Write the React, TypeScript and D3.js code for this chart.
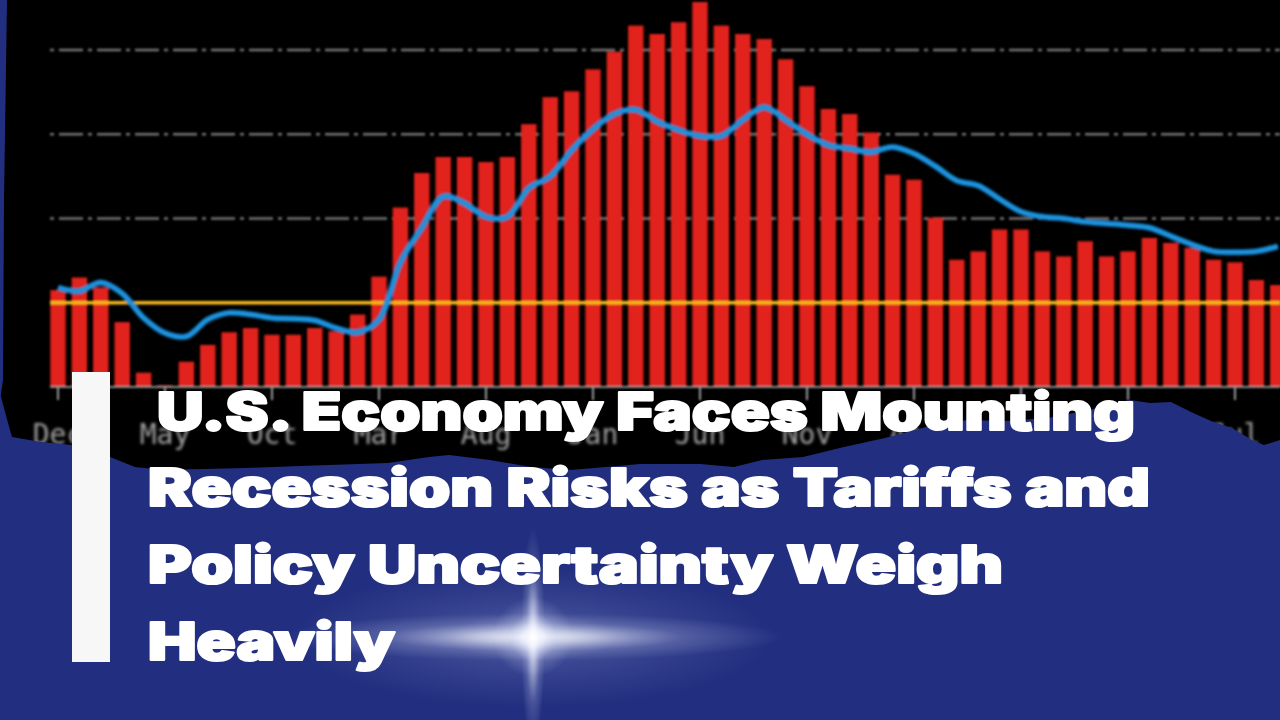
import React from 'react';
import * as d3 from 'd3';

const W = 1280;
const H = 720;

// monthly bar values (index 0 = Dec)
const barValues = [1.15, 1.30, 1.18, 0.77, 0.17, 0.02, 0.30, 0.50, 0.65, 0.70, 0.62, 0.62, 0.70, 0.66, 0.86, 1.31, 2.13, 2.54, 2.73, 2.73, 2.67, 2.73, 3.12, 3.44, 3.51, 3.77, 3.98, 4.29, 4.19, 4.33, 4.57, 4.29, 4.19, 4.13, 3.89, 3.57, 3.30, 3.24, 3.02, 2.52, 2.46, 2.01, 1.51, 1.61, 1.87, 1.87, 1.61, 1.55, 1.73, 1.55, 1.61, 1.77, 1.71, 1.65, 1.51, 1.48, 1.27, 1.21];
// smoothed line values
const lineValues = [1.18, 1.14, 1.24, 1.11, 0.82, 0.64, 0.60, 0.80, 0.88, 0.86, 0.82, 0.81, 0.79, 0.70, 0.65, 0.80, 1.48, 1.89, 2.26, 2.18, 2.02, 2.02, 2.36, 2.50, 2.81, 3.06, 3.24, 3.29, 3.15, 3.05, 2.98, 2.98, 3.17, 3.32, 3.17, 3.00, 2.87, 2.83, 2.79, 2.85, 2.77, 2.62, 2.45, 2.39, 2.23, 2.08, 2.02, 2.00, 1.96, 1.94, 1.92, 1.89, 1.79, 1.69, 1.61, 1.60, 1.61, 1.67];
const monthNames = ['Dec', 'Jan', 'Feb', 'Mar', 'Apr', 'May', 'Jun', 'Jul', 'Aug', 'Sep', 'Oct', 'Nov'];
const yearLabels = ['2020', '2021', '2021', '2022', '2022', '2023', '2023', '2023', '2024', '2024', '2025', '2025'];
const gridValues = [2, 3, 4];
const referenceValue = 1;
const tickEvery = 5;

const titleLines = [
  'U.S. Economy Faces Mounting',
  'Recession Risks as Tariffs and',
  'Policy Uncertainty Weigh',
  'Heavily',
];
const titleX = [157, 148, 148, 148];
const titleW = [978, 1002, 855, 247];
const titleY = [430, 506, 583, 660];

// decorative torn-paper edge of the blue overlay
const tornEdge: [number, number][] = [
  [0, 393], [8, 423], [12, 437], [41, 442], [71, 445], [110, 457], [135, 467], [163, 470], [245, 468], [300, 466],
  [388, 463], [429, 457], [449, 455], [490, 460], [531, 467], [571, 470], [640, 464], [700, 464], [734, 467],
  [762, 460], [803, 457], [844, 447], [885, 438], [926, 427], [967, 420], [1007, 421], [1048, 418], [1089, 410],
  [1130, 400], [1150, 403], [1171, 402], [1191, 412], [1211, 421], [1232, 428], [1252, 440], [1264, 445], [1280, 440],
];

const BLUE = '#222f80';

export default function App() {
  const idx = barValues.map((_, i) => i);
  const n = barValues.length;
  const x = d3.scaleBand<number>()
    .domain(idx)
    .range([47.3, 47.3 + 21.4 * n])
    .paddingInner(0.28)
    .paddingOuter(0.14);
  const y = d3.scaleLinear().domain([0, 4]).range([387, 50]);
  const cx = (i: number) => (x(i) as number) + x.bandwidth() / 2;

  const line = d3.line<number>()
    .x((_, i) => cx(i))
    .y((d) => y(d))
    .curve(d3.curveCatmullRom.alpha(0.5));

  const ticks = idx.filter((i) => i % tickEvery === 0);
  const edgePath = 'M' + tornEdge.map((p) => p.join(',')).join('L') + `L${W},${H}L0,${H}Z`;

  return (
    <svg width={W} height={H} style={{ position: 'absolute', left: 0, top: 0 }}>
      <defs>
        <filter id="blurChart" x="-5%" y="-5%" width="110%" height="110%">
          <feGaussianBlur stdDeviation="0.9" />
        </filter>
        <filter id="blurLabel" x="-10%" y="-10%" width="120%" height="120%">
          <feGaussianBlur stdDeviation="1.5" />
        </filter>
        <filter id="glow" x="-5%" y="-200%" width="110%" height="500%">
          <feGaussianBlur stdDeviation="2" />
        </filter>
        <radialGradient id="spark">
          <stop offset="0" stopColor="#ffffff" stopOpacity="1" />
          <stop offset="0.25" stopColor="#f4f6ff" stopOpacity="0.7" />
          <stop offset="0.6" stopColor="#c8cff0" stopOpacity="0.25" />
          <stop offset="1" stopColor="#c8cff0" stopOpacity="0" />
        </radialGradient>
        <radialGradient id="halo">
          <stop offset="0" stopColor="#ffffff" stopOpacity="0.75" />
          <stop offset="0.35" stopColor="#b4bde9" stopOpacity="0.3" />
          <stop offset="1" stopColor="#aab4e6" stopOpacity="0" />
        </radialGradient>
      </defs>

      <rect x={0} y={0} width={W} height={H} fill={BLUE} />
      <path d={`M7,0L${W},0L${W},490L0,490L0,400L3,380L4,200Z`} fill="#000" />

      <g filter="url(#blurChart)">
        {gridValues.map((v) => (
          <line key={v} x1={50} x2={W} y1={y(v)} y2={y(v)} stroke="#747474" strokeWidth={2.5}
            strokeDasharray="4,5,24,5" />
        ))}
        {barValues.map((v, i) => (
          <rect key={i} x={x(i)} y={y(v)} width={x.bandwidth()} height={y(0) - y(v)} fill="#e2241c" />
        ))}
        <line x1={50} x2={W} y1={y(referenceValue)} y2={y(referenceValue)} stroke="#e07a00" strokeWidth={7}
          opacity={0.7} filter="url(#glow)" />
        <line x1={50} x2={W} y1={y(referenceValue)} y2={y(referenceValue)} stroke="#f7b81a" strokeWidth={3.5} />
        <path d={line(lineValues) || ''} fill="none" stroke="#0f6fb8" strokeWidth={7} opacity={0.6} />
        <path d={line(lineValues) || ''} fill="none" stroke="#1f93dc" strokeWidth={4.5} />
        <line x1={50} x2={W} y1={y(0)} y2={y(0)} stroke="#8a8a8a" strokeWidth={2} />
        {ticks.map((i) => (
          <line key={i} x1={cx(i)} x2={cx(i)} y1={y(0)} y2={y(0) + 13} stroke="#9a9a9a" strokeWidth={2} />
        ))}
      </g>
      <g filter="url(#blurLabel)" fill="#a0a0a0" fontFamily="'DejaVu Sans Mono', 'Liberation Mono', monospace"
        fontSize={28} textAnchor="middle">
        {ticks.map((i) => (
          <text key={'m' + i} x={cx(i)} y={444}>{monthNames[i % 12]}</text>
        ))}
        {ticks.map((i, k) => (
          <text key={'y' + i} x={cx(i)} y={492}>{yearLabels[k]}</text>
        ))}
      </g>

      <path d={edgePath} fill={BLUE} />

      <g>
        <ellipse cx={533} cy={637} rx={240} ry={70} fill="url(#halo)" opacity={0.6} />
        <ellipse cx={533} cy={637} rx={250} ry={24} fill="url(#spark)" opacity={0.9} />
        <ellipse cx={533} cy={637} rx={12} ry={110} fill="url(#spark)" opacity={0.85} />
        <circle cx={533} cy={637} r={40} fill="url(#spark)" />
      </g>

      <rect x={72} y={372} width={38} height={290} fill="#f7f7f7" />

      <g fill="#ffffff" stroke="#ffffff" strokeWidth={2.2} strokeLinejoin="round"
        fontFamily="Inter, Lato, 'Open Sans', sans-serif" fontWeight={900} fontSize={52}>
        {titleLines.map((t, k) => (
          <text key={k} x={titleX[k]} y={titleY[k]} textLength={titleW[k]} lengthAdjust="spacingAndGlyphs">{t}</text>
        ))}
      </g>
    </svg>
  );
}
